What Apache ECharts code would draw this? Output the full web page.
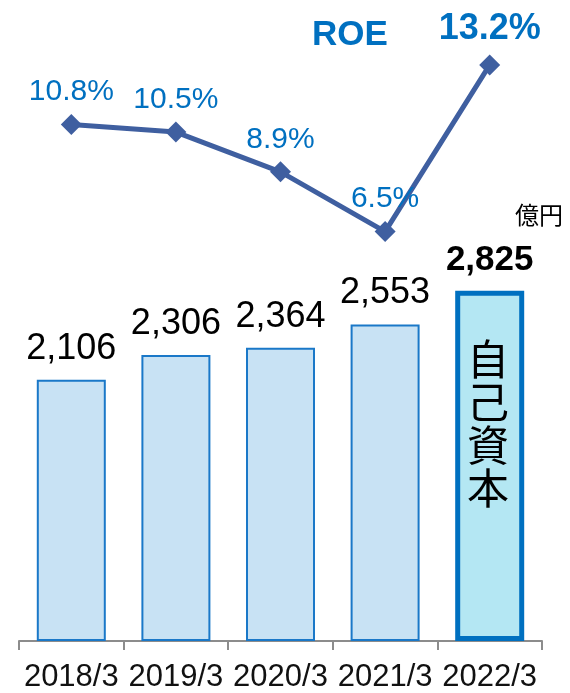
<!DOCTYPE html>
<html>
<head>
<meta charset="utf-8">
<script src="https://cdn.jsdelivr.net/npm/echarts@6/dist/echarts.min.js"></script>
<style>
html,body{margin:0;padding:0;background:#fff;}
#chart{width:570px;height:693px;}
</style>
</head>
<body>
<div id="chart"></div>
<script>
var years = ['2018/3','2019/3','2020/3','2021/3','2022/3'];
var equity = [2106, 2306, 2364, 2553, 2825];   // 億円
var roe = [10.8, 10.5, 8.9, 6.5, 13.2];       // %

var font = '"Liberation Sans", Arial, Helvetica, sans-serif';
var cjk = '"Noto Sans CJK JP", sans-serif';
var last = years.length - 1;

var chart = echarts.init(document.getElementById('chart'));

var barData = equity.map(function(v, i){
	if(i === last){
		return {
			value: v,
			itemStyle: {color:'#B4E7F3', borderColor:'#0070C0', borderWidth:5},
			label: {fontWeight:'bold', fontSize:35}
		};
	}
	return v;
});

var lineData = roe.map(function(v, i){
	if(i === last){
		return {value: v, label: {fontWeight:'bold', fontSize:36}};
	}
	return v;
});

var option = {
	animation: false,
	grid: [
		{left:19, right:28, top:21, bottom:50},
		{left:19, right:28, top:45, height:199}
	],
	xAxis: [
		{
			type:'category',
			gridIndex:0,
			data:years,
			axisLine:{lineStyle:{color:'#8C8C8C', width:2}},
			axisTick:{show:true, length:9, lineStyle:{color:'#8C8C8C', width:2}},
			axisLabel:{color:'#111', fontSize:31, fontFamily:font, margin:21, interval:0}
		},
		{
			type:'category',
			gridIndex:1,
			data:years,
			show:false
		}
	],
	yAxis: [
		{type:'value', gridIndex:0, min:0, max:5000, show:false, splitLine:{show:false}},
		{type:'value', gridIndex:1, min:6, max:14, show:false, splitLine:{show:false}}
	],
	series: [
		{
			name:'自己資本',
			type:'bar',
			xAxisIndex:0,
			yAxisIndex:0,
			barWidth:69,
			data:barData,
			itemStyle:{color:'#C8E2F4', borderColor:'#1A78C8', borderWidth:2},
			label:{
				show:true,
				position:'top',
				distance:13,
				color:'#000',
				fontSize:36,
				fontFamily:font,
				formatter:function(p){ return p.value.toLocaleString('en-US'); }
			}
		},
		{
			name:'ROE',
			type:'line',
			xAxisIndex:1,
			yAxisIndex:1,
			data:lineData,
			symbol:'diamond',
			symbolSize:21,
			lineStyle:{color:'#3F5FA0', width:5},
			itemStyle:{color:'#3F5FA0'},
			label:{
				show:true,
				position:'top',
				distance:7,
				color:'#0070C0',
				fontSize:30,
				fontFamily:font,
				formatter:'{c}%'
			}
		}
	],
	graphic: [
		{
			type:'text', left:312, top:18, z:100,
			style:{text:'ROE', fill:'#0070C0', font:'bold 35px ' + font}
		},
		{
			type:'text', left:515, top:203, z:100,
			style:{text:'億円', fill:'#000', font:'24px ' + cjk}
		},
		{
			type:'text', left:467, top:338, z:100,
			style:{text:'自\n己\n資\n本', fill:'#000', font:'42px ' + cjk, lineHeight:43}
		}
	]
};
chart.setOption(option);
</script>
</body>
</html>
